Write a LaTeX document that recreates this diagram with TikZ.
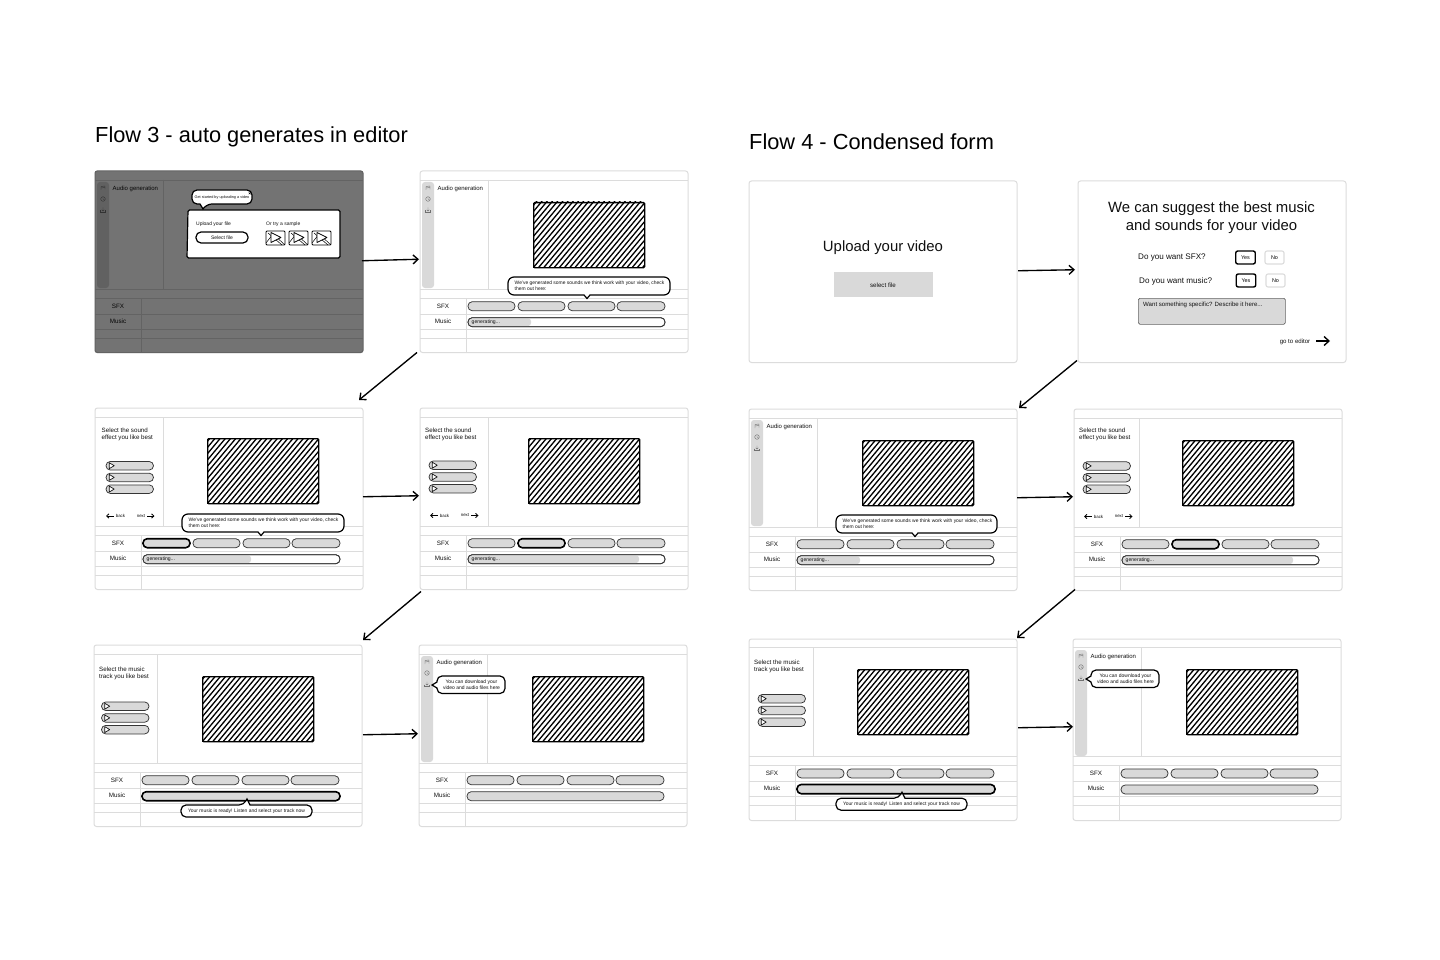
\documentclass[tikz,border=0pt]{standalone}
\usepackage{fontspec}
\setmainfont{Liberation Sans}
\usetikzlibrary{arrows.meta}
\definecolor{gridc}{HTML}{DCDCDC}
\definecolor{pillc}{HTML}{D9D9D9}
\definecolor{inkc}{HTML}{111111}
\def\lo{0}
\tikzset{
  fs/.style 2 args={font=\fontsize{#1}{#2}\selectfont},
  lab/.style={inner sep=0pt,text=inkc},
  framebox/.style={draw=gridc,line width=1pt,rounded corners=2.5pt,fill=white,minimum width=268pt,minimum height=181.5pt,inner sep=0pt,outer sep=0pt},
  gridl/.style={draw=gridc,line width=.9pt},
  pill/.style={draw=inkc!85,fill=pillc,line width=.75pt,rounded corners=4.2pt},
  pillsel/.style={draw=black,fill=pillc,line width=1.6pt,rounded corners=4.2pt},
  pillw/.style={draw=inkc!85,fill=white,line width=.75pt,rounded corners=4.2pt},
  videobox/.style={draw=black,line width=1.3pt,rounded corners=1pt,minimum width=111pt,minimum height=65pt,inner sep=0pt},
  hatchl/.style={draw=black,line width=1.3pt},
  bub/.style={draw=black,fill=white,line width=1.2pt},
  flowarrow/.style={draw=black,line width=1.35pt,-{Straight Barb[length=5pt,width=9pt]}},
  smallarrow/.style={draw=black,line width=.8pt,-{Straight Barb[length=2.4pt,width=4.4pt]}},
  iconl/.style={draw=inkc!60,line width=.4pt},
}
\newcommand\screenbase[2]{%
  \node[framebox,anchor=north west] (#1) at (0,0) {};
  \draw[gridl] (0,9+\lo) -- (268,9+\lo);
  \draw[gridl] (0,118+\lo) -- (268,118+\lo);
  \draw[gridl] (#2,9+\lo) -- (#2,118+\lo);
  \draw[gridl] (0,127+\lo) -- (268,127+\lo);
  \draw[gridl] (0,143+\lo) -- (268,143+\lo);
  \draw[gridl] (0,158.7+\lo) -- (268,158.7+\lo);
  \draw[gridl] (0,167+\lo) -- (268,167+\lo);
  \draw[gridl] (46,127+\lo) -- (46,181.5);
  \node[lab,fs={6.3}{7}] (#1-sfx) at (23,134.9+\lo) {SFX};
  \node[lab,fs={6.3}{7}] (#1-music) at (23,150.4+\lo) {Music};
}
\newcommand\sidebar[1]{%
  \fill[pillc,rounded corners=3pt] (2,11) rectangle (14,117);
  \draw[iconl] (6,19) -- (6,15.5) -- (10,15) -- (10,18.5);
  \draw[iconl] (6,17) -- (10,16.5);
  \draw[iconl] (8,28) circle (2.3);
  \draw[iconl] (8,26.5) -- (8,28) -- (9.2,28.6);
  \draw[iconl] (5.5,39.5) -- (5.5,41.5) -- (10.5,41.5) -- (10.5,39.5);
  \draw[iconl] (8,36.5) -- (8,40) (6.7,38.8) -- (8,40) -- (9.3,38.8);
  \node[lab,anchor=west,fs={6}{7}] (#1-title) at (17.5,18) {Audio generation};
}
\newcommand\video[3]{%
  \begin{scope}
    \clip (#2,#3) rectangle ++(111,65);
    \foreach \k in {-12,...,22} \draw[hatchl] ({#2+\k*5.2},{#3+66}) -- ++(56,-67);
  \end{scope}
  \node[videobox,anchor=north west] (#1-video) at (#2,#3) {};
}
\newcommand\onepill[3]{\path[#3] (#1,130.7+\lo) rectangle (#2,139.7+\lo); }
\newcommand\sfxpills[1]{%
  \ifnum#1=1 \onepill{48}{95}{pillsel}\else\onepill{48}{95}{pill}\fi
  \ifnum#1=2 \onepill{98}{145}{pillsel}\else\onepill{98}{145}{pill}\fi
  \ifnum#1=3 \onepill{148}{195}{pillsel}\else\onepill{148}{195}{pill}\fi
  \ifnum#1=4 \onepill{197}{245}{pillsel}\else\onepill{197}{245}{pill}\fi
}
\newcommand\genpill[2]{%
  \path[pillw] (48,146.7) rectangle (245,155.7);
  \fill[pillc,rounded corners=3pt] (49,147.3) rectangle (#2,155.1);
  \path[pillw,fill=none] (48,146.7) rectangle (245,155.7);
  \node[lab,anchor=west,fs={5.1}{6}] (#1-gen) at (51.5,151.2) {generating...};
}
\newcommand\options[7]{%
  \node[lab,anchor=north west,align=left,fs={6.2}{7}] (#1-ask) at (#2,#3+1.3) {#4\\#5};
  \foreach \d in {0,11.7,23.4}{
    \path[pill] (#6,{#7+\d}) rectangle ++(47.5,8.5);
    \draw[inkc,line width=.7pt,line join=round,fill=white] ({#6+3.2},{#7+\d+1.2}) -- ++(5,3) -- ++(-5,3) -- cycle;
  }
}
\newcommand\backnext[3]{%
  \coordinate (#1-ba) at (#2,#3);
  \coordinate (#1-bb) at ({#2+7.5},#3);
  \draw[smallarrow] (#1-bb) -- (#1-ba);
  \node[lab,fs={4.4}{5}] (#1-back) at ({#2+14.5},#3) {back};
  \node[lab,fs={4.4}{5}] (#1-next) at ({#2+35},#3) {next};
  \coordinate (#1-na) at ({#2+41},#3);
  \coordinate (#1-nb) at ({#2+48.5},#3);
  \draw[smallarrow] (#1-na) -- (#1-nb);
}
\newcommand\bubbleSounds[3]{%
  \path[bub,rounded corners=6pt] ({#2+20},106) -- (#3,106) -- (#3,124) [sharp corners] -- ({#2+82},124) -- ({#2+79},127.5) -- ({#2+76},124) [rounded corners=6pt] -- (#2,124) -- (#2,106) -- cycle;
  \node[lab,anchor=north west,align=left,fs={4.95}{6}] (#1-bub) at ({#2+6.5},109.5) {We've generated some sounds we think work with your video, check\\them out here:};
}
\newcommand\bubbleMusic[1]{%
  \path[bub,rounded corners=5pt] (120,160+\lo) -- (150,160+\lo) [sharp corners] -- (153,154+\lo) -- (156,160+\lo) [rounded corners=5pt] -- (218,160+\lo) -- (218,172+\lo) -- (87,172+\lo) -- (87,160+\lo) -- cycle;
  \node[lab,fs={4.95}{6}] (#1-bub) at (152.5,166+\lo) {Your music is ready! Listen and select your track now};
}
\newcommand\bubbleDownload[1]{%
  \path[bub,rounded corners=5pt] (50,31) -- (86,31) -- (86,48.5) -- (18,48.5) [sharp corners] -- (18,43) -- (13,40) -- (18,37) [rounded corners=5pt] -- (18,31) -- cycle;
  \node[lab,align=center,fs={5}{6}] (#1-bub) at (52.5,39.5) {You can download your\\video and audio files here};
}
\begin{document}
\begin{tikzpicture}[x=1pt,y=-1pt]
\useasboundingbox (0,0) rectangle (1440,960);
\fill[white] (0,0) rectangle (1440,960);

\node[lab,anchor=base west,fs={21.8}{24},text=black] (flow3) at (95,143) {Flow 3 - auto generates in editor};
\node[lab,anchor=base west,fs={21.8}{24},text=black] (flow4) at (749,150) {Flow 4 - Condensed form};

% S1
\begin{scope}[shift={(95,171)}]
  \screenbase{a}{68}
  \sidebar{a}
  \fill[black,opacity=.55,rounded corners=2.5pt] (-.5,-.5) rectangle (268.5,182);
  \path[bub] (93,39) [rounded corners=1.5pt] -- (245,39) -- (245,87) -- (92,87) -- cycle;
  \path[bub,rounded corners=5pt] (130,19) -- (157,19) -- (157,33) -- (112,33) [sharp corners] -- (108,38) -- (105,33) [rounded corners=5pt] -- (97,33) -- (97,19) -- cycle;
  \node[lab,fs={3.8}{5}] (a-bub) at (127,26.5) {Get started by uploading a video};
  \draw[inkc,line width=.4pt] (153.7,21.3) -- (155.7,23.3) (155.7,21.3) -- (153.7,23.3);
  \node[lab,anchor=west,fs={5}{6}] (a-up) at (101,53) {Upload your file};
  \node[lab,anchor=west,fs={5}{6}] (a-or) at (171,53) {Or try a sample};
  \draw[black,line width=1.2pt,fill=white,rounded corners=5pt] (101,61) rectangle (153,72);
  \node[lab,fs={5}{6}] (a-sel) at (127,66.5) {Select file};
  \foreach \tx in {171,194,217}{
    \draw[black,line width=.9pt,rounded corners=1pt] (\tx,60) rectangle ++(19,14);
    \draw[black,line width=.5pt] (\tx,72) -- ++(7,-9) -- ++(12,11) (\tx+2,62) -- ++(14,12);
    \draw[black,line width=.7pt,fill=white,line join=round] (\tx+5,61.5) -- ++(10,5) -- ++(-10,5) -- cycle;
  }
\end{scope}

% S2
\begin{scope}[shift={(420,171)}]
  \screenbase{b}{68}
  \sidebar{b}
  \video{b}{113}{31}
  \sfxpills{0}
  \genpill{b}{111}
  \bubbleSounds{b}{88}{250}
\end{scope}

% S3
\begin{scope}[shift={(95,408)}]
  \screenbase{c}{68}
  \video{c}{112}{30}
  \options{c}{6.5}{18.5}{Select the sound}{effect you like best}{11}{53.5}
  \backnext{c}{11}{108}
  \sfxpills{1}
  \genpill{c}{156}
  \bubbleSounds{c}{87}{249}
\end{scope}

% S4
\begin{scope}[shift={(420,408)}]
  \screenbase{d}{68}
  \video{d}{108}{30}
  \options{d}{5}{18.5}{Select the sound}{effect you like best}{9}{53}
  \backnext{d}{10}{107.5}
  \sfxpills{2}
  \genpill{d}{219}
\end{scope}

% S5
\begin{scope}[shift={(94,645)}]
  \screenbase{e}{63}
  \video{e}{108}{31}
  \options{e}{5}{21}{Select the music}{track you like best}{7.5}{57}
  \sfxpills{0}
  \path[pillsel] (48,146.7) rectangle (246,155.7);
  \bubbleMusic{e}
\end{scope}

% S6
\begin{scope}[shift={(419,645)}]
  \screenbase{f}{68}
  \sidebar{f}
  \video{f}{113}{31}
  \sfxpills{0}
  \path[pill] (48,146.7) rectangle (245,155.7);
  \bubbleDownload{f}
\end{scope}

% S7
\begin{scope}[shift={(749,181)}]
  \node[framebox,anchor=north west] (g) at (0,0) {};
  \node[lab,fs={14.9}{17}] (g-t) at (134,67) {Upload your video};
  \node[fill=pillc,minimum width=99pt,minimum height=25pt,inner sep=0pt] (g-b) at (134,103.5) {};
  \node[lab,fs={6.2}{7}] (g-s) at (134,104) {select file};
\end{scope}

% S8
\begin{scope}[shift={(1078,181)}]
  \node[framebox,anchor=north west] (h) at (0,0) {};
  \node[lab,align=center,fs={14.9}{17.5}] (h-t) at (133.5,36.5) {We can suggest the best music\\and sounds for your video};
  \node[lab,anchor=west,fs={8.1}{9}] (h-q1) at (60,76.5) {Do you want SFX?};
  \node[lab,anchor=west,fs={8.1}{9}] (h-q2) at (61,100) {Do you want music?};
  \node[draw=black,line width=1.4pt,rounded corners=2pt,minimum width=19.5pt,minimum height=13pt,inner sep=0pt,fs={5.4}{6}] (h-y1) at (167.5,76.5) {Yes};
  \node[draw=gridc,line width=1.1pt,rounded corners=2pt,minimum width=19pt,minimum height=13pt,inner sep=0pt,fs={5.4}{6}] (h-n1) at (196.5,76.5) {No};
  \node[draw=black,line width=1.4pt,rounded corners=2pt,minimum width=19.5pt,minimum height=13pt,inner sep=0pt,fs={5.4}{6}] (h-y2) at (168,99.5) {Yes};
  \node[draw=gridc,line width=1.1pt,rounded corners=2pt,minimum width=19pt,minimum height=13pt,inner sep=0pt,fs={5.4}{6}] (h-n2) at (197.5,99.5) {No};
  \node[draw=inkc!65,fill=pillc,line width=.7pt,rounded corners=1.5pt,minimum width=147pt,minimum height=26pt,anchor=north west,inner sep=0pt] (h-box) at (60,117) {};
  \node[lab,anchor=west,fs={6.1}{7}] (h-want) at (65,123.5) {Want something specific? Describe it here...};
  \node[lab,fs={6.1}{7}] (h-go) at (217,161) {go to editor};
  \coordinate (h-aa) at (238,160);
  \coordinate (h-ab) at (252,160);
  \draw[flowarrow] (h-aa) -- (h-ab);
\end{scope}

% S9
\begin{scope}[shift={(749,409)}]
  \screenbase{i}{68}
  \sidebar{i}
  \video{i}{113}{31}
  \sfxpills{0}
  \genpill{i}{111}
  \bubbleSounds{i}{87}{248}
\end{scope}

% S10
\begin{scope}[shift={(1074,409)}]
  \screenbase{j}{65}
  \video{j}{108}{31}
  \options{j}{5}{17.5}{Select the sound}{effect you like best}{9}{52.7}
  \backnext{j}{10}{107.5}
  \sfxpills{2}
  \genpill{j}{219}
\end{scope}

% S11
\begin{scope}[shift={(749,639)}]
  \def\lo{-.8}
  \screenbase{k}{64}
  \video{k}{108}{30}
  \options{k}{5}{20}{Select the music}{track you like best}{9}{55.5}
  \sfxpills{0}
  \path[pillsel] (48,145.5) rectangle (246,154.7);
  \bubbleMusic{k}
\end{scope}

% S12
\begin{scope}[shift={(1073,639)}]
  \def\lo{-.8}
  \screenbase{l}{68}
  \sidebar{l}
  \video{l}{113}{30}
  \sfxpills{0}
  \path[pill] (48,146) rectangle (245,155);
  \bubbleDownload{l}
\end{scope}

% connectors
\draw[flowarrow] ([shift={(-1,-1)}]a.east) -- ([shift={(-1,-2.5)}]b.west);
\draw[flowarrow] ([shift={(-3,0)}]b.south west) -- ([shift={(-4,-8)}]c.north east);
\draw[flowarrow] ([shift={(0,-2)}]c.east) -- ([shift={(-1,-3)}]d.west);
\draw[flowarrow] ([shift={(1,2)}]d.south west) -- ([shift={(1,-5)}]e.north east);
\draw[flowarrow] ([shift={(1,-1)}]e.east) -- ([shift={(-1,-2)}]f.west);
\draw[flowarrow] ([shift={(1,-1)}]g.east) -- ([shift={(-3,-2)}]h.west);
\draw[flowarrow] ([shift={(-1,-2)}]h.south west) -- ([shift={(2,-1)}]i.north east);
\draw[flowarrow] ([shift={(0,-2)}]i.east) -- ([shift={(-1,-3)}]j.west);
\draw[flowarrow] ([shift={(1,-1)}]j.south west) -- ([shift={(0,-1)}]k.north east);
\draw[flowarrow] ([shift={(1,-2)}]k.east) -- ([shift={(0,-3)}]l.west);
\end{tikzpicture}
\end{document}
